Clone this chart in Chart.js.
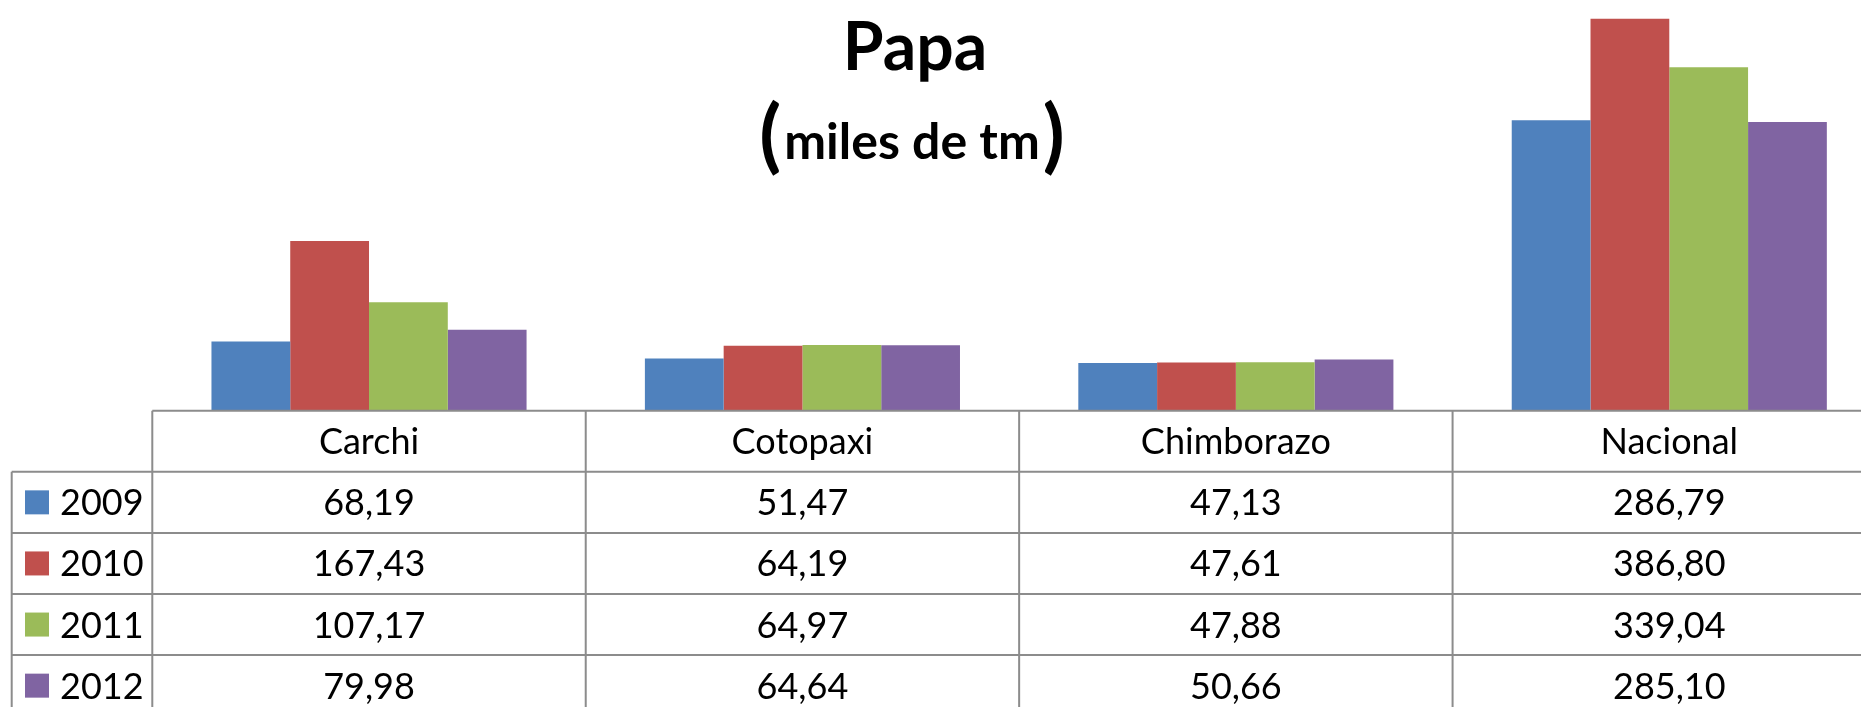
<!DOCTYPE html>
<html>
<head>
<meta charset="utf-8">
<script src="https://cdn.jsdelivr.net/npm/chart.js@4/dist/chart.umd.min.js"></script>
<style>
  html, body { margin: 0; padding: 0; background: #fff; overflow: hidden; }
  #wrap { width: 1886px; height: 707px; }
</style>
</head>
<body>
<div id="wrap"><canvas id="papaChart" width="1886" height="707"></canvas></div>
<script>
// data
const categories = ['Carchi', 'Cotopaxi', 'Chimborazo', 'Nacional'];
const years = ['2009', '2010', '2011', '2012'];
const v2009 = [68.19, 51.47, 47.13, 286.79];
const v2010 = [167.43, 64.19, 47.61, 386.80];
const v2011 = [107.17, 64.97, 47.88, 339.04];
const v2012 = [79.98, 64.64, 50.66, 285.10];
const colors = ['#4F81BD', '#C0504D', '#9BBB59', '#8064A2'];
const titleMain = 'Papa';
const titleSub = 'miles de tm';

const seriesValues = [v2009, v2010, v2011, v2012];
const fontName = 'Lato, "Open Sans", sans-serif';
const gridColor = '#8c8c8c';

function fmt(v) {
    return v.toFixed(2).replace('.', ',');
}

// title + data table drawn under the axis
const tablePlugin = {
    id: 'dataTable',
    afterDraw(chart) {
        const ctx = chart.ctx;
        const xs = chart.scales.x;
        const area = chart.chartArea;
        const n = categories.length;
        const catW = (xs.right - xs.left) / n;
        const rowH = 61.1;
        const top = area.bottom;
        const legendLeft = 11.7;
        const fontSize = 36;
        const capH = fontSize * 0.72;

        ctx.save();

        // title
        ctx.fillStyle = '#000';
        ctx.textAlign = 'center';
        ctx.textBaseline = 'alphabetic';
        ctx.font = 'bold 66px ' + fontName;
        ctx.fillText(titleMain, 915, 70);

        // the brackets are set larger than the words, as in the original
        ctx.font = 'bold 80px ' + fontName;
        let pw = ctx.measureText('(').width;
        ctx.font = 'bold 50px ' + fontName;
        let sw = ctx.measureText(titleSub).width;
        let total = pw * 2 + sw + 6;
        let x0 = 912 - total / 2;
        ctx.textAlign = 'left';
        ctx.font = 'bold 80px ' + fontName;
        ctx.fillText('(', x0, 163);
        ctx.fillText(')', x0 + pw + sw + 6, 163);
        ctx.font = 'bold 50px ' + fontName;
        ctx.fillText(titleSub, x0 + pw + 3, 159);

        // grid lines
        ctx.strokeStyle = gridColor;
        ctx.lineWidth = 2;
        ctx.beginPath();
        ctx.moveTo(xs.left, top);
        ctx.lineTo(xs.right + 2, top);
        for (let r = 1; r <= years.length + 1; r++) {
            ctx.moveTo(legendLeft, top + r * rowH);
            ctx.lineTo(xs.right + 2, top + r * rowH);
        }
        for (let i = 0; i <= n; i++) {
            let x = xs.left + i * catW;
            ctx.moveTo(x, top);
            ctx.lineTo(x, top + (years.length + 1) * rowH);
        }
        ctx.moveTo(legendLeft, top + rowH);
        ctx.lineTo(legendLeft, top + (years.length + 1) * rowH);
        ctx.stroke();

        // header + values
        ctx.font = fontSize + 'px ' + fontName;
        ctx.fillStyle = '#000';
        ctx.textAlign = 'center';
        for (let i = 0; i < n; i++) {
            let cx = xs.getPixelForValue(i);
            ctx.fillText(categories[i], cx, top + rowH / 2 + capH / 2);
            for (let s = 0; s < years.length; s++) {
                let cy = top + (s + 1) * rowH + rowH / 2;
                ctx.fillText(fmt(seriesValues[s][i]), cx, cy + capH / 2);
            }
        }

        // legend column
        ctx.textAlign = 'left';
        for (let s = 0; s < years.length; s++) {
            let cy = top + (s + 1) * rowH + rowH / 2;
            ctx.fillStyle = colors[s];
            ctx.fillRect(25, cy - 12, 24, 24);
            ctx.fillStyle = '#000';
            ctx.fillText(years[s], 60, cy + capH / 2);
        }

        ctx.restore();
    }
};

const ctx = document.getElementById('papaChart').getContext('2d');
const papaChart = new Chart(ctx, {
    type: 'bar',
    data: {
        labels: categories,
        datasets: years.map(function(y, s) {
            return {
                label: y,
                data: seriesValues[s],
                backgroundColor: colors[s],
                borderWidth: 0,
                categoryPercentage: 0.727,
                barPercentage: 1.0
            };
        })
    },
    options: {
        responsive: false,
        devicePixelRatio: 1,
        animation: false,
        layout: {
            padding: { top: 5.5, left: 152.3, right: 0, bottom: 296.3 }
        },
        plugins: {
            legend: { display: false },
            title: { display: false },
            tooltip: { enabled: false }
        },
        scales: {
            x: { display: false, offset: true },
            y: { display: false, min: 0, max: 400 }
        }
    },
    plugins: [tablePlugin]
});
</script>
</body>
</html>
